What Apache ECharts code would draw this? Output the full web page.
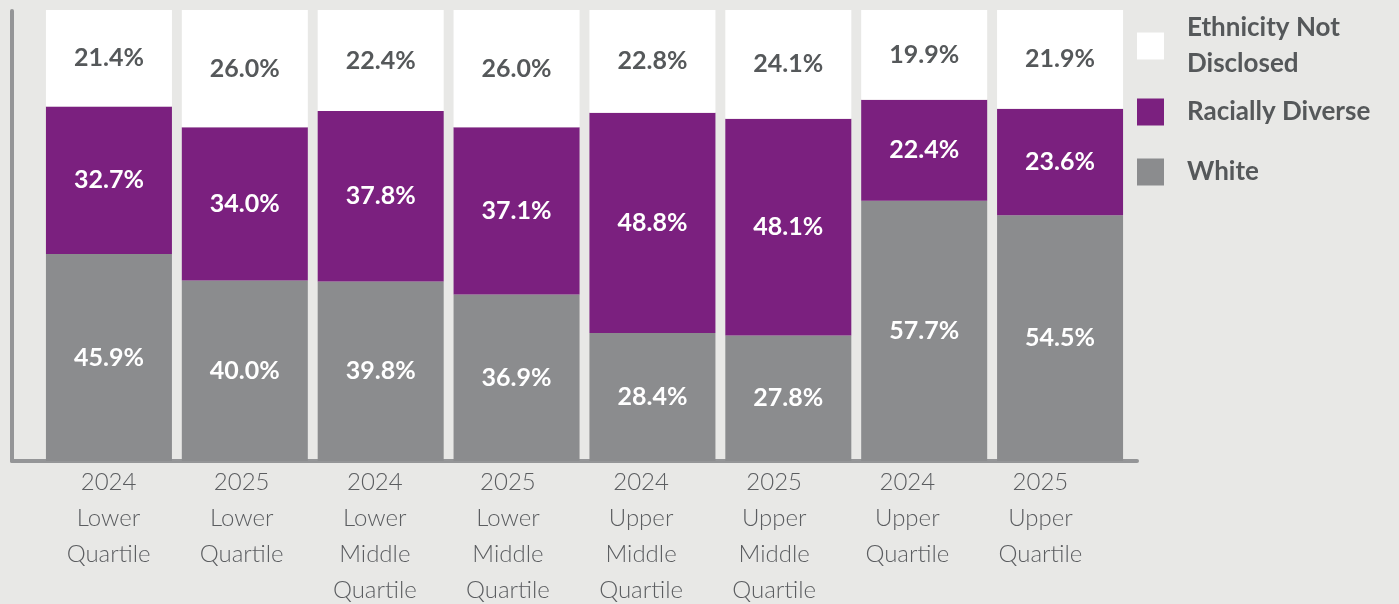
<!DOCTYPE html>
<html>
<head>
<meta charset="utf-8">
<script src="https://cdn.jsdelivr.net/npm/echarts@6/dist/echarts.min.js"></script>
<style>
  html, body { margin: 0; padding: 0; background: #e8e8e6; }
  #chart { width: 1399px; height: 604px; }
</style>
</head>
<body>
<div id="chart"></div>
<script>
// categories (year + quartile)
const categories = [
  '2024\nLower\nQuartile',
  '2025\nLower\nQuartile',
  '2024\nLower\nMiddle\nQuartile',
  '2025\nLower\nMiddle\nQuartile',
  '2024\nUpper\nMiddle\nQuartile',
  '2025\nUpper\nMiddle\nQuartile',
  '2024\nUpper\nQuartile',
  '2025\nUpper\nQuartile'
];

// series values (%)
const white = [45.9, 40.0, 39.8, 36.9, 28.4, 27.8, 57.7, 54.5];
const raciallyDiverse = [32.7, 34.0, 37.8, 37.1, 48.8, 48.1, 22.4, 23.6];
const notDisclosed = [21.4, 26.0, 22.4, 26.0, 22.8, 24.1, 19.9, 21.9];

const FONT = 'Lato, "Open Sans", sans-serif';
const DARK = '#55585a';

const colors = {
  'White': '#8b8c8e',
  'Racially Diverse': '#7b207f',
  'Ethnicity Not Disclosed': '#ffffff'
};

const chart = echarts.init(document.getElementById('chart'));

const pctLabel = (color) => ({
  show: true,
  position: 'inside',
  color: color,
  fontFamily: FONT,
  fontWeight: 'bold',
  fontSize: 25,
  formatter: (p) => p.value.toFixed(1) + '%'
});

const makeSeries = (name, data, labelColor) => ({
  name: name,
  type: 'bar',
  stack: 'total',
  barWidth: 126,
  xAxisIndex: 0,
  yAxisIndex: 0,
  itemStyle: { color: colors[name] },
  label: pctLabel(labelColor),
  emphasis: { disabled: true },
  data: data
});

// one legend per item, so the two-line item can sit where it does in the original
const legendItem = (name, top) => ({
  data: [name],
  orient: 'vertical',
  left: 1137,
  top: top,
  padding: 0,
  itemWidth: 27,
  itemHeight: 27,
  icon: 'rect',
  selectedMode: false,
  formatter: (n) => (n === 'Ethnicity Not Disclosed' ? 'Ethnicity Not\nDisclosed' : n),
  textStyle: {
    fontFamily: FONT,
    fontWeight: 'bold',
    fontSize: 26,
    lineHeight: 36,
    color: DARK,
    padding: [0, 0, 0, 18]
  }
});

const hiddenValueAxis = (gridIndex, showLine) => ({
  gridIndex: gridIndex,
  type: 'value',
  min: 0,
  max: 1,
  axisLine: { show: showLine, lineStyle: { color: '#949597', width: 4 } },
  axisTick: { show: false },
  axisLabel: { show: false },
  splitLine: { show: false }
});

const option = {
  backgroundColor: '#e8e8e6',
  animation: false,
  legend: [
    legendItem('Ethnicity Not Disclosed', 10),
    legendItem('Racially Diverse', 94),
    legendItem('White', 154)
  ],
  grid: [
    // bars
    { left: 41, right: 271, top: 10, bottom: 143, outerBoundsMode: 'none' },
    // axis frame
    { left: 12, right: 262, top: 11, bottom: 143, outerBoundsMode: 'none' },
    // category labels (spaced a bit tighter than the bars, as in the original)
    { left: 42, right: 292, top: 10, bottom: 143, outerBoundsMode: 'none' }
  ],
  xAxis: [
    {
      gridIndex: 0,
      type: 'category',
      data: categories,
      axisLine: { show: false },
      axisTick: { show: false },
      axisLabel: { show: false }
    },
    hiddenValueAxis(1, true),
    {
      gridIndex: 2,
      type: 'category',
      data: categories,
      axisLine: { show: false },
      axisTick: { show: false },
      axisLabel: {
        margin: 3,
        interval: 0,
        fontFamily: FONT,
        fontWeight: 300,
        fontSize: 24,
        lineHeight: 36,
        color: '#5b5d60'
      }
    }
  ],
  yAxis: [
    {
      gridIndex: 0,
      type: 'value',
      min: 0,
      max: 100,
      axisLine: { show: false },
      axisTick: { show: false },
      axisLabel: { show: false },
      splitLine: { show: false }
    },
    hiddenValueAxis(1, true),
    hiddenValueAxis(2, false)
  ],
  series: [
    makeSeries('White', white, '#ffffff'),
    makeSeries('Racially Diverse', raciallyDiverse, '#ffffff'),
    makeSeries('Ethnicity Not Disclosed', notDisclosed, DARK)
  ]
};

chart.setOption(option);
window.addEventListener('resize', () => chart.resize());
</script>
</body>
</html>
